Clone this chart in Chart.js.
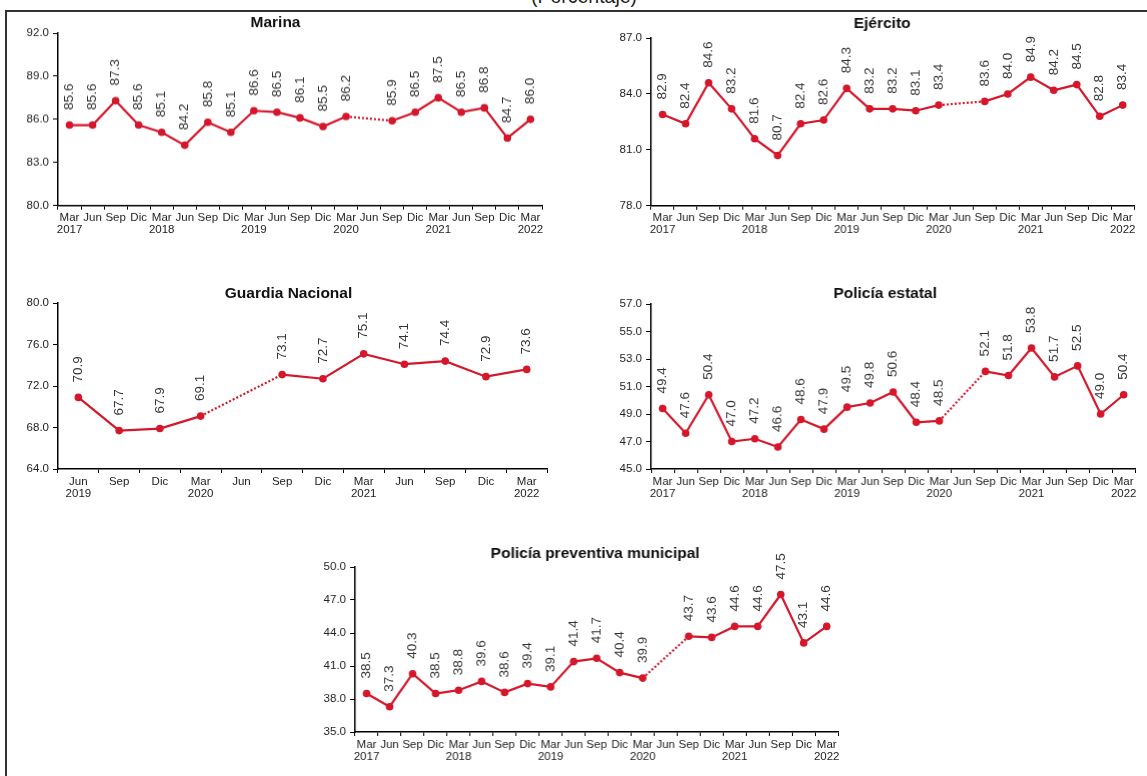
<!DOCTYPE html>
<html>
<head>
<meta charset="utf-8">
<script src="https://cdn.jsdelivr.net/npm/chart.js@4"></script>
<style>
  body { margin: 0; background: #fff; width: 1147px; height: 776px; overflow: hidden; position: relative;
         font-family: "Liberation Sans", Arial, sans-serif; }
  .sup { position: absolute; top: -13.75px; left: 466px; width: 236px; text-align: center;
         font-size: 19.5px; line-height: 20px; color: #222; }
  .frame { position: absolute; left: 5px; top: 9.5px; width: 1160px; height: 800px;
           border-left: 2px solid #333; border-top: 2px solid #333; }
  .panel { position: absolute; }
</style>
</head>
<body>
<div class="sup">(Porcentaje)</div>
<div class="frame"></div>
<div class="panel"><canvas id="cMarina"></canvas></div>
<div class="panel"><canvas id="cEjercito"></canvas></div>
<div class="panel"><canvas id="cGuardia"></canvas></div>
<div class="panel"><canvas id="cEstatal"></canvas></div>
<div class="panel"><canvas id="cMunicipal"></canvas></div>
<script>
// Trimestres (Mar 2017 - Mar 2022)
const MESES = ['Mar','Jun','Sep','Dic','Mar','Jun','Sep','Dic','Mar','Jun','Sep','Dic','Mar','Jun','Sep','Dic','Mar','Jun','Sep','Dic','Mar'];
const ANIOS = ['2017','','','','2018','','','','2019','','','','2020','','','','2021','','','','2022'];
// Guardia Nacional (Jun 2019 - Mar 2022)
const MESES_GN = ['Jun','Sep','Dic','Mar','Jun','Sep','Dic','Mar','Jun','Sep','Dic','Mar'];
const ANIOS_GN = ['2019','','','2020','','','','2021','','','','2022'];

// Valores (porcentaje); Jun 2020 sin dato
const marina    = [85.6, 85.6, 87.3, 85.6, 85.1, 84.2, 85.8, 85.1, 86.6, 86.5, 86.1, 85.5, 86.2, null, 85.9, 86.5, 87.5, 86.5, 86.8, 84.7, 86.0];
const ejercito  = [82.9, 82.4, 84.6, 83.2, 81.6, 80.7, 82.4, 82.6, 84.3, 83.2, 83.2, 83.1, 83.4, null, 83.6, 84.0, 84.9, 84.2, 84.5, 82.8, 83.4];
const guardia   = [70.9, 67.7, 67.9, 69.1, null, 73.1, 72.7, 75.1, 74.1, 74.4, 72.9, 73.6];
const estatal   = [49.4, 47.6, 50.4, 47.0, 47.2, 46.6, 48.6, 47.9, 49.5, 49.8, 50.6, 48.4, 48.5, null, 52.1, 51.8, 53.8, 51.7, 52.5, 49.0, 50.4];
const municipal = [38.5, 37.3, 40.3, 38.5, 38.8, 39.6, 38.6, 39.4, 39.1, 41.4, 41.7, 40.4, 39.9, null, 43.7, 43.6, 44.6, 44.6, 47.5, 43.1, 44.6];

const RED = '#d5162b';
const FONT = '"Liberation Sans", Arial, sans-serif';
const Y_W = 56, PAD_TOP = 22, X_H = 31;

const toLabels = (m, a) => m.map((x, i) => [x, a[i]]);

// etiquetas de valor giradas sobre cada punto
const valueLabels = {
  id: 'valueLabels',
  afterDatasetsDraw(chart) {
    const { ctx } = chart;
    const meta = chart.getDatasetMeta(0);
    const data = chart.data.datasets[0].data;
    ctx.save();
    ctx.font = '13.5px ' + FONT;
    ctx.fillStyle = '#333';
    ctx.textAlign = 'left';
    ctx.textBaseline = 'middle';
    meta.data.forEach((pt, i) => {
      if (data[i] == null) return;
      ctx.save();
      ctx.translate(pt.x, pt.y - 15);
      ctx.rotate(-Math.PI / 2);
      ctx.fillText(data[i].toFixed(1), 0, 0);
      ctx.restore();
    });
    ctx.restore();
  }
};

const panelTitle = {
  id: 'panelTitle',
  afterDraw(chart, args, opts) {
    const { ctx } = chart;
    ctx.save();
    ctx.font = 'bold 15.5px ' + FONT;
    ctx.fillStyle = '#111';
    ctx.textAlign = 'center';
    ctx.textBaseline = 'middle';
    ctx.fillText(opts.text, opts.x, opts.y);
    ctx.restore();
  }
};

function makePanel(id, p) {
  const left = p.l - Y_W, top = p.t - PAD_TOP;
  const canvas = document.getElementById(id);
  const box = canvas.parentNode;
  box.style.left = left + 'px';
  box.style.top = top + 'px';
  box.style.width = (p.r - left) + 'px';
  box.style.height = (p.b - top + X_H) + 'px';

  new Chart(canvas, {
    type: 'line',
    data: {
      labels: p.labels,
      datasets: [{
        data: p.values,
        borderColor: RED, backgroundColor: RED, borderWidth: 2.2,
        pointRadius: 3.8, pointBackgroundColor: RED, pointBorderWidth: 0,
        tension: 0, spanGaps: true,
        segment: { borderDash: c => (c.p0.skip || c.p1.skip) ? [2, 2] : undefined }
      }]
    },
    options: {
      responsive: true, maintainAspectRatio: false, animation: false,
      layout: { padding: { top: PAD_TOP, left: 0, right: 0, bottom: 0 } },
      plugins: {
        legend: { display: false },
        tooltip: { enabled: false },
        panelTitle: { text: p.title, x: p.tx - left, y: p.ty - top }
      },
      scales: {
        x: {
          offset: true,
          grid: { offset: true, drawOnChartArea: false, tickLength: 4, color: '#000', lineWidth: 1 },
          border: { color: '#000', width: 1.5 },
          ticks: { autoSkip: false, maxRotation: 0, padding: 2.5, color: '#222', font: { size: 11.5, family: FONT, lineHeight: '12px' } },
          afterFit: s => { s.height = X_H; s.paddingLeft = 0; s.paddingRight = 0; }
        },
        y: {
          min: p.min, max: p.max,
          grid: { drawOnChartArea: false, tickLength: 5, color: '#000', lineWidth: 1 },
          border: { color: '#000', width: 1.5 },
          ticks: { stepSize: p.step, padding: 4, color: '#222', font: { size: 11.5, family: FONT }, callback: v => v.toFixed(1) },
          afterFit: s => { s.width = Y_W; }
        }
      }
    },
    plugins: [valueLabels, panelTitle]
  });
}

makePanel('cMarina', { title: 'Marina', labels: toLabels(MESES, ANIOS), values: marina,
  min: 80, max: 92, step: 3, l: 57.5, r: 545.5, t: 33.3, b: 205, tx: 275, ty: 23 });
makePanel('cEjercito', { title: 'Ejército', labels: toLabels(MESES, ANIOS), values: ejercito,
  min: 78, max: 87, step: 3, l: 651.4, r: 1137.6, t: 37.7, b: 205.5, tx: 882, ty: 23 });
makePanel('cGuardia', { title: 'Guardia Nacional', labels: toLabels(MESES_GN, ANIOS_GN), values: guardia,
  min: 64, max: 80, step: 4, l: 57.5, r: 550.6, t: 303.3, b: 469.3, tx: 288, ty: 294 });
makePanel('cEstatal', { title: 'Policía estatal', labels: toLabels(MESES, ANIOS), values: estatal,
  min: 45, max: 57, step: 2, l: 651.4, r: 1138.6, t: 304, b: 469, tx: 885, ty: 294 });
makePanel('cMunicipal', { title: 'Policía preventiva municipal', labels: toLabels(MESES, ANIOS), values: municipal,
  min: 35, max: 50, step: 3, l: 355.4, r: 841.6, t: 566.7, b: 731.7, tx: 595, ty: 553 });
</script>
</body>
</html>
